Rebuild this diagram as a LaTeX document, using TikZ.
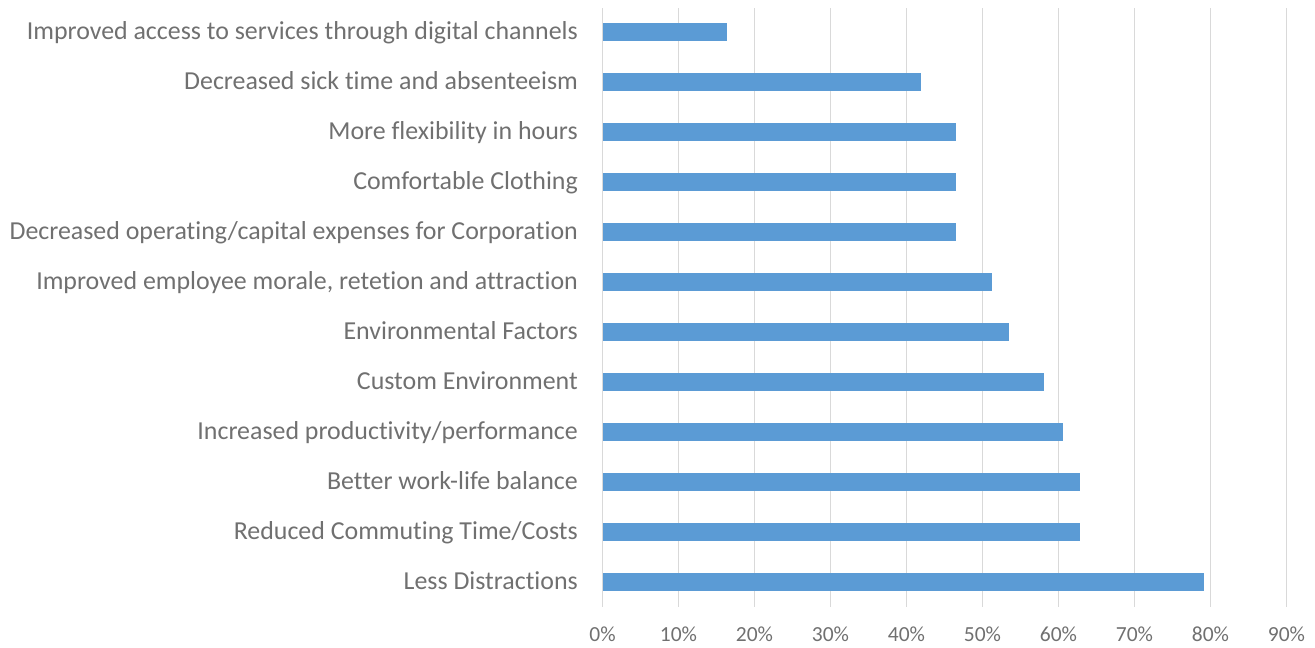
\documentclass[tikz,border=0pt]{standalone}
\usepackage{fontspec}
\setmainfont[Ligatures=NoCommon]{Carlito}
\definecolor{barblue}{HTML}{5B9BD5}
\definecolor{gridgray}{HTML}{D9D9D9}
\definecolor{textgray}{HTML}{707070}
\tikzset{
  catlabel/.style={anchor=base east, inner sep=0pt, text=textgray,
    font=\fontsize{25.9}{30}\selectfont},
  ticklabel/.style={anchor=base, inner sep=0pt, text=textgray,
    font=\fontsize{21.5}{25}\selectfont},
  hbar/.style={anchor=west, fill=barblue, draw=none, inner sep=0pt,
    minimum height=17.5pt},
  gridline/.style={draw=gridgray, line width=1.5pt}
}
\begin{document}
\begin{tikzpicture}[x=1pt,y=-1pt]
  \useasboundingbox (0,0) rectangle (1315,648);
  % vertical grid and percent ticks
  \foreach \i in {0,...,9} {
    \coordinate (gtop\i) at (602.5+76*\i, 8);
    \coordinate (gbot\i) at (602.5+76*\i, 607);
    \draw[gridline] (gtop\i) -- (gbot\i);
    \node[ticklabel] (tick\i) at (602.5+76*\i, 641.5) {\the\numexpr\i*10\relax\%};
  }
  % one bar per answer, top to bottom
  \foreach \val/\txt [count=\n] in {
      16.3/Improved access to services through digital channels,
      41.9/Decreased sick time and absenteeism,
      46.5/More flexibility in hours,
      46.5/Comfortable Clothing,
      46.5/{Decreased operating/capital expenses for Corporation},
      51.2/{Improved employee morale, retetion and attraction},
      53.5/Environmental Factors,
      58.1/Custom Environment,
      60.5/{Increased productivity/performance},
      62.8/Better work-life balance,
      62.8/{Reduced Commuting Time/Costs},
      79.1/Less Distractions} {
    \node[catlabel] (cat\n) at (578, 39.8+50*\n-50) {\txt};
    \node[hbar, minimum width={\val*7.6pt}] (bar\n) at (602.5, 32+50*\n-50) {};
  }
\end{tikzpicture}
\end{document}
